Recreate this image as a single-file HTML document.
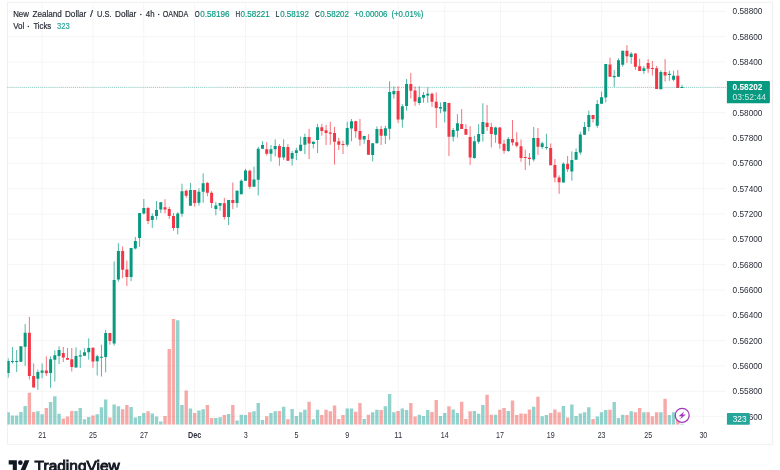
<!DOCTYPE html><html><head><meta charset="utf-8"><title>NZDUSD</title>
<style>html,body{margin:0;padding:0;background:#fff}body{width:780px;height:470px;overflow:hidden;position:relative}svg{position:absolute;left:0;top:0;display:block;will-change:transform}text{font-family:"Liberation Sans",sans-serif}</style></head><body>
<svg width="780" height="470" viewBox="0 0 780 470">
<rect width="780" height="470" fill="#fff"/>
<defs><clipPath id="cp"><rect x="7.4" y="2.3" width="718.2" height="422.4"/></clipPath></defs>
<path d="M7.4 11.30H725.6 M7.4 36.63H725.6 M7.4 61.97H725.6 M7.4 87.30H725.6 M7.4 112.63H725.6 M7.4 137.97H725.6 M7.4 163.30H725.6 M7.4 188.63H725.6 M7.4 213.97H725.6 M7.4 239.30H725.6 M7.4 264.63H725.6 M7.4 289.97H725.6 M7.4 315.30H725.6 M7.4 340.63H725.6 M7.4 365.97H725.6 M7.4 391.30H725.6 M7.4 416.63H725.6 M42.10 2.3V424.7 M93.00 2.3V424.7 M143.70 2.3V424.7 M194.60 2.3V424.7 M245.50 2.3V424.7 M296.70 2.3V424.7 M347.50 2.3V424.7 M398.30 2.3V424.7 M444.70 2.3V424.7 M500.50 2.3V424.7 M551.60 2.3V424.7 M601.60 2.3V424.7 M648.50 2.3V424.7 M703.60 2.3V424.7" stroke="#f5f5f6" stroke-width="1" fill="none"/>
<rect x="7.4" y="2.3" width="765.2" height="442.0" fill="none" stroke="#eeeff1" stroke-width="1"/>
<g clip-path="url(#cp)">
<path d="M6.50 424.7v-12.5h3.4v12.5zM10.74 424.7v-9.3h3.4v9.3zM14.98 424.7v-9.3h3.4v9.3zM19.21 424.7v-12.7h3.4v12.7zM23.45 424.7v-18.8h3.4v18.8zM36.17 424.7v-13.5h3.4v13.5zM40.40 424.7v-10.5h3.4v10.5zM48.88 424.7v-22.7h3.4v22.7zM53.12 424.7v-28.5h3.4v28.5zM57.36 424.7v-11.0h3.4v11.0zM74.31 424.7v-13.8h3.4v13.8zM78.55 424.7v-16.7h3.4v16.7zM82.78 424.7v-5.5h3.4v5.5zM87.02 424.7v-7.7h3.4v7.7zM95.50 424.7v-10.5h3.4v10.5zM99.74 424.7v-17.5h3.4v17.5zM103.97 424.7v-25.2h3.4v25.2zM112.45 424.7v-20.2h3.4v20.2zM116.69 424.7v-18.5h3.4v18.5zM129.40 424.7v-17.7h3.4v17.7zM133.64 424.7v-7.2h3.4v7.2zM137.88 424.7v-8.8h3.4v8.8zM142.12 424.7v-11.7h3.4v11.7zM150.59 424.7v-11.3h3.4v11.3zM154.83 424.7v-8.3h3.4v8.3zM159.07 424.7v-3.3h3.4v3.3zM176.02 424.7v-104.5h3.4v104.5zM180.26 424.7v-19.8h3.4v19.8zM188.73 424.7v-16.3h3.4v16.3zM197.21 424.7v-14.3h3.4v14.3zM201.45 424.7v-15.5h3.4v15.5zM214.16 424.7v-6.7h3.4v6.7zM218.40 424.7v-7.5h3.4v7.5zM226.88 424.7v-10.8h3.4v10.8zM235.35 424.7v-4.3h3.4v4.3zM239.59 424.7v-10.0h3.4v10.0zM243.83 424.7v-9.7h3.4v9.7zM252.30 424.7v-13.5h3.4v13.5zM256.54 424.7v-21.7h3.4v21.7zM260.78 424.7v-4.7h3.4v4.7zM269.26 424.7v-11.7h3.4v11.7zM273.49 424.7v-13.5h3.4v13.5zM281.97 424.7v-18.0h3.4v18.0zM290.45 424.7v-15.8h3.4v15.8zM294.68 424.7v-8.8h3.4v8.8zM298.92 424.7v-12.5h3.4v12.5zM303.16 424.7v-15.0h3.4v15.0zM311.64 424.7v-5.5h3.4v5.5zM315.87 424.7v-15.0h3.4v15.0zM345.54 424.7v-16.3h3.4v16.3zM349.78 424.7v-16.3h3.4v16.3zM362.49 424.7v-5.8h3.4v5.8zM370.97 424.7v-12.5h3.4v12.5zM375.21 424.7v-15.0h3.4v15.0zM383.68 424.7v-18.5h3.4v18.5zM387.92 424.7v-30.7h3.4v30.7zM392.16 424.7v-12.5h3.4v12.5zM400.63 424.7v-16.3h3.4v16.3zM404.87 424.7v-14.7h3.4v14.7zM417.59 424.7v-10.0h3.4v10.0zM421.82 424.7v-8.8h3.4v8.8zM426.06 424.7v-14.7h3.4v14.7zM438.78 424.7v-8.8h3.4v8.8zM443.01 424.7v-11.7h3.4v11.7zM451.49 424.7v-15.2h3.4v15.2zM455.73 424.7v-11.7h3.4v11.7zM472.68 424.7v-13.8h3.4v13.8zM476.92 424.7v-11.0h3.4v11.0zM481.16 424.7v-19.7h3.4v19.7zM493.87 424.7v-10.0h3.4v10.0zM506.58 424.7v-13.8h3.4v13.8zM532.01 424.7v-18.0h3.4v18.0zM540.49 424.7v-8.5h3.4v8.5zM544.73 424.7v-9.7h3.4v9.7zM561.68 424.7v-18.8h3.4v18.8zM570.15 424.7v-20.2h3.4v20.2zM574.39 424.7v-8.8h3.4v8.8zM578.63 424.7v-11.3h3.4v11.3zM582.87 424.7v-12.5h3.4v12.5zM587.11 424.7v-17.5h3.4v17.5zM595.58 424.7v-8.3h3.4v8.3zM599.82 424.7v-12.5h3.4v12.5zM604.06 424.7v-14.7h3.4v14.7zM612.53 424.7v-22.7h3.4v22.7zM616.77 424.7v-6.7h3.4v6.7zM621.01 424.7v-10.0h3.4v10.0zM629.49 424.7v-13.5h3.4v13.5zM642.20 424.7v-12.5h3.4v12.5zM659.15 424.7v-12.5h3.4v12.5zM667.63 424.7v-9.8h3.4v9.8zM671.87 424.7v-12.5h3.4v12.5zM680.34 424.7v-0.9h3.4v0.9z" fill="rgba(38,166,154,0.5)"/>
<path d="M27.69 424.7v-32.0h3.4v32.0zM31.93 424.7v-12.7h3.4v12.7zM44.64 424.7v-16.7h3.4v16.7zM61.59 424.7v-6.3h3.4v6.3zM65.83 424.7v-8.3h3.4v8.3zM70.07 424.7v-13.8h3.4v13.8zM91.26 424.7v-9.3h3.4v9.3zM108.21 424.7v-7.2h3.4v7.2zM120.93 424.7v-15.5h3.4v15.5zM125.16 424.7v-19.7h3.4v19.7zM146.35 424.7v-13.5h3.4v13.5zM163.31 424.7v-8.8h3.4v8.8zM167.54 424.7v-75.7h3.4v75.7zM171.78 424.7v-105.8h3.4v105.8zM184.50 424.7v-34.3h3.4v34.3zM192.97 424.7v-11.7h3.4v11.7zM205.69 424.7v-19.7h3.4v19.7zM209.92 424.7v-6.7h3.4v6.7zM222.64 424.7v-9.7h3.4v9.7zM231.11 424.7v-19.7h3.4v19.7zM248.07 424.7v-12.5h3.4v12.5zM265.02 424.7v-8.5h3.4v8.5zM277.73 424.7v-13.8h3.4v13.8zM286.21 424.7v-5.5h3.4v5.5zM307.40 424.7v-23.0h3.4v23.0zM320.11 424.7v-9.7h3.4v9.7zM324.35 424.7v-15.0h3.4v15.0zM328.59 424.7v-13.5h3.4v13.5zM332.83 424.7v-19.2h3.4v19.2zM337.06 424.7v-5.8h3.4v5.8zM341.30 424.7v-9.7h3.4v9.7zM354.02 424.7v-13.0h3.4v13.0zM358.25 424.7v-21.8h3.4v21.8zM366.73 424.7v-10.0h3.4v10.0zM379.44 424.7v-14.7h3.4v14.7zM396.40 424.7v-13.8h3.4v13.8zM409.11 424.7v-21.7h3.4v21.7zM413.35 424.7v-8.3h3.4v8.3zM430.30 424.7v-12.7h3.4v12.7zM434.54 424.7v-24.7h3.4v24.7zM447.25 424.7v-18.5h3.4v18.5zM459.97 424.7v-23.0h3.4v23.0zM464.20 424.7v-5.8h3.4v5.8zM468.44 424.7v-13.5h3.4v13.5zM485.39 424.7v-30.0h3.4v30.0zM489.63 424.7v-10.0h3.4v10.0zM498.11 424.7v-15.0h3.4v15.0zM502.35 424.7v-16.8h3.4v16.8zM510.82 424.7v-24.2h3.4v24.2zM515.06 424.7v-9.7h3.4v9.7zM519.30 424.7v-11.3h3.4v11.3zM523.54 424.7v-11.0h3.4v11.0zM527.77 424.7v-15.2h3.4v15.2zM536.25 424.7v-28.0h3.4v28.0zM548.96 424.7v-11.7h3.4v11.7zM553.20 424.7v-15.2h3.4v15.2zM557.44 424.7v-12.5h3.4v12.5zM565.92 424.7v-7.2h3.4v7.2zM591.34 424.7v-5.8h3.4v5.8zM608.30 424.7v-15.0h3.4v15.0zM625.25 424.7v-9.7h3.4v9.7zM633.72 424.7v-12.5h3.4v12.5zM637.96 424.7v-16.8h3.4v16.8zM646.44 424.7v-12.5h3.4v12.5zM650.68 424.7v-8.5h3.4v8.5zM654.91 424.7v-12.5h3.4v12.5zM663.39 424.7v-26.0h3.4v26.0zM676.10 424.7v-11.0h3.4v11.0z" fill="rgba(239,83,80,0.5)"/>
<path d="M8.20 358.3V377.7M12.44 347.0V363.6M16.68 350.0V372.0M20.91 346.2V361.7M25.15 324.1V365.8M37.87 369.5V389.9M42.10 363.4V378.2M50.58 356.4V387.8M54.82 350.3V381.5M59.06 346.4V364.1M76.01 347.3V367.6M80.25 350.2V368.0M84.48 348.3V355.7M88.72 338.3V359.6M97.20 354.7V375.5M101.44 344.7V376.5M105.67 330.0V372.4M114.15 261.5V345.7M118.39 243.3V281.7M131.10 247.9V281.0M135.34 237.0V249.4M139.58 213.0V246.9M143.82 199.0V214.4M152.29 213.3V227.9M156.53 201.0V219.7M160.77 202.0V213.0M177.72 212.3V234.3M181.96 183.7V216.8M190.43 182.9V205.8M198.91 188.4V205.6M203.15 173.4V202.9M215.86 202.0V215.4M220.10 202.9V210.7M228.58 200.0V225.1M237.05 190.3V207.7M241.29 179.3V194.2M245.53 168.8V180.8M254.00 166.8V186.7M258.24 146.8V195.4M262.48 141.2V148.8M270.96 145.0V161.5M275.19 139.3V156.3M283.67 139.3V160.1M292.15 150.9V165.6M296.38 147.8V160.1M300.62 136.7V151.5M304.86 133.7V154.1M313.34 141.2V148.4M317.57 123.8V153.0M347.24 121.7V146.9M351.48 119.0V141.2M364.19 135.8V143.8M372.67 143.0V161.4M376.91 126.5V143.3M385.38 126.0V144.0M389.62 81.3V139.7M393.86 86.5V98.6M402.33 104.2V127.7M406.57 79.1V110.6M419.29 86.3V104.9M423.52 92.1V102.7M427.76 87.3V102.7M440.48 102.4V113.2M444.71 101.9V122.4M453.19 127.9V141.5M457.43 114.2V137.6M474.38 135.8V158.7M478.62 124.1V143.8M482.86 103.3V141.5M495.57 126.6V142.8M508.28 137.0V151.8M533.71 127.0V161.6M542.19 141.8V149.0M546.43 133.8V149.7M563.38 162.3V182.6M571.85 151.4V180.7M576.09 148.5V159.7M580.33 131.8V154.6M584.57 121.9V134.8M588.81 110.6V131.4M597.28 100.0V127.8M601.52 91.6V103.7M605.76 64.1V102.4M614.23 70.1V86.9M618.47 58.3V76.8M622.71 50.8V66.7M631.19 52.1V63.8M643.90 66.0V73.8M660.85 70.3V89.2M669.33 70.7V80.8M673.57 70.7V81.3M682.04 84.9V87.9" stroke="#089981" stroke-width="1" stroke-opacity="0.7" fill="none"/>
<path d="M29.39 316.8V379.5M33.63 363.4V387.4M46.34 356.4V375.9M63.29 347.0V362.0M67.53 348.0V359.7M71.77 348.0V371.5M92.96 347.5V367.8M109.91 332.9V344.7M122.63 246.4V278.2M126.86 260.5V286.1M148.05 206.9V224.0M165.01 199.2V213.5M169.24 206.9V218.9M173.48 213.0V230.8M186.20 189.6V197.7M194.67 190.1V206.7M207.39 181.9V196.3M211.62 191.2V208.1M224.34 197.9V219.5M232.81 182.5V209.2M249.77 169.7V188.7M266.72 142.2V155.5M279.43 144.0V165.8M287.91 144.0V160.8M309.10 128.9V159.0M321.81 123.8V135.6M326.05 124.8V145.0M330.29 121.7V144.8M334.53 126.9V164.5M338.76 137.8V150.0M343.00 140.7V154.0M355.72 120.7V137.8M359.95 119.0V145.8M368.43 134.2V154.7M381.14 126.0V145.0M398.10 86.3V123.1M410.81 72.9V98.6M415.05 86.5V105.9M432.00 92.6V106.8M436.24 92.6V127.9M448.95 102.9V156.1M461.67 109.1V128.9M465.90 124.3V134.8M470.14 126.2V164.8M487.09 105.0V130.8M491.33 122.8V147.4M499.81 127.2V148.7M504.05 139.7V153.8M512.52 120.0V145.5M516.76 132.2V147.5M521.00 139.5V161.8M525.24 149.7V170.0M529.47 153.1V165.4M537.95 128.0V154.9M550.66 143.4V165.3M554.90 159.0V182.3M559.14 175.4V193.8M567.62 156.0V172.0M593.04 115.0V122.5M610.00 57.6V76.8M626.95 45.1V63.1M635.42 53.3V69.9M639.66 58.7V71.0M648.14 59.1V72.8M652.38 61.0V75.6M656.61 66.0V89.0M665.09 59.0V81.6M677.80 70.0V87.9" stroke="#f23645" stroke-width="1" stroke-opacity="0.7" fill="none"/>
<path d="M6.70 361.0h3.0V373.0h-3.0zM10.94 361.0h3.0V362.0h-3.0zM15.18 360.9h3.0V361.9h-3.0zM19.41 346.2h3.0V361.7h-3.0zM23.65 332.8h3.0V346.8h-3.0zM36.37 372.0h3.0V378.7h-3.0zM40.60 370.6h3.0V372.8h-3.0zM49.08 359.3h3.0V372.9h-3.0zM53.32 355.2h3.0V359.7h-3.0zM57.56 350.0h3.0V355.9h-3.0zM74.51 356.0h3.0V367.6h-3.0zM78.75 355.3h3.0V356.5h-3.0zM82.98 352.2h3.0V355.7h-3.0zM87.22 348.0h3.0V352.2h-3.0zM95.70 356.3h3.0V361.2h-3.0zM99.94 356.8h3.0V357.8h-3.0zM104.17 332.9h3.0V357.0h-3.0zM112.65 279.9h3.0V343.6h-3.0zM116.89 251.0h3.0V279.6h-3.0zM129.60 247.9h3.0V276.9h-3.0zM133.84 241.0h3.0V248.4h-3.0zM138.08 213.0h3.0V238.1h-3.0zM142.32 207.9h3.0V213.5h-3.0zM150.79 216.1h3.0V219.9h-3.0zM155.03 209.9h3.0V216.1h-3.0zM159.27 202.3h3.0V209.6h-3.0zM176.22 213.5h3.0V227.9h-3.0zM180.46 191.2h3.0V213.8h-3.0zM188.93 190.1h3.0V205.8h-3.0zM197.41 191.7h3.0V202.7h-3.0zM201.65 183.3h3.0V191.7h-3.0zM214.36 205.6h3.0V208.9h-3.0zM218.60 203.1h3.0V205.8h-3.0zM227.08 200.0h3.0V217.1h-3.0zM235.55 190.8h3.0V203.0h-3.0zM239.79 180.8h3.0V194.2h-3.0zM244.03 170.4h3.0V180.8h-3.0zM252.50 179.6h3.0V186.7h-3.0zM256.74 148.8h3.0V179.8h-3.0zM260.98 145.0h3.0V148.8h-3.0zM269.46 149.2h3.0V153.7h-3.0zM273.69 146.1h3.0V149.2h-3.0zM282.17 147.1h3.0V157.4h-3.0zM290.65 152.9h3.0V158.8h-3.0zM294.88 150.2h3.0V152.9h-3.0zM299.12 144.7h3.0V150.8h-3.0zM303.36 137.1h3.0V144.8h-3.0zM311.84 141.7h3.0V144.0h-3.0zM316.07 127.2h3.0V139.9h-3.0zM345.74 127.9h3.0V144.8h-3.0zM349.98 121.2h3.0V128.6h-3.0zM362.69 136.1h3.0V139.5h-3.0zM371.17 143.3h3.0V154.9h-3.0zM375.41 129.1h3.0V143.3h-3.0zM383.88 128.3h3.0V135.8h-3.0zM388.12 92.1h3.0V128.8h-3.0zM392.36 91.1h3.0V94.2h-3.0zM400.83 106.2h3.0V119.5h-3.0zM405.07 83.9h3.0V105.9h-3.0zM417.79 97.2h3.0V102.9h-3.0zM422.02 94.9h3.0V97.7h-3.0zM426.26 93.8h3.0V95.5h-3.0zM438.98 107.0h3.0V108.4h-3.0zM443.21 102.0h3.0V111.6h-3.0zM451.69 130.0h3.0V136.8h-3.0zM455.93 123.2h3.0V130.7h-3.0zM472.88 141.2h3.0V157.9h-3.0zM477.12 134.1h3.0V141.7h-3.0zM481.36 122.0h3.0V134.1h-3.0zM494.07 127.6h3.0V134.8h-3.0zM506.78 138.9h3.0V150.9h-3.0zM532.21 138.0h3.0V159.6h-3.0zM540.69 143.2h3.0V147.0h-3.0zM544.93 147.0h3.0V148.0h-3.0zM561.88 163.8h3.0V182.6h-3.0zM570.35 160.0h3.0V171.5h-3.0zM574.59 152.1h3.0V159.7h-3.0zM578.83 134.5h3.0V152.4h-3.0zM583.07 127.0h3.0V134.8h-3.0zM587.31 115.0h3.0V127.0h-3.0zM595.78 104.1h3.0V125.8h-3.0zM600.02 97.3h3.0V103.7h-3.0zM604.26 64.1h3.0V97.6h-3.0zM612.73 76.0h3.0V77.2h-3.0zM616.97 60.3h3.0V76.8h-3.0zM621.21 50.8h3.0V64.8h-3.0zM629.69 53.8h3.0V56.9h-3.0zM642.40 68.2h3.0V71.0h-3.0zM659.35 72.1h3.0V89.2h-3.0zM667.83 73.8h3.0V75.1h-3.0zM672.07 75.8h3.0V79.7h-3.0zM680.54 87.0h3.0V88.0h-3.0z" fill="#089981"/>
<path d="M27.89 332.8h3.0V375.9h-3.0zM32.13 375.9h3.0V387.4h-3.0zM44.84 370.6h3.0V373.3h-3.0zM61.79 353.0h3.0V357.5h-3.0zM66.03 357.9h3.0V359.7h-3.0zM70.27 359.2h3.0V367.0h-3.0zM91.46 347.8h3.0V361.5h-3.0zM108.41 332.9h3.0V340.9h-3.0zM121.13 251.0h3.0V269.7h-3.0zM125.36 269.5h3.0V276.9h-3.0zM146.55 207.9h3.0V220.9h-3.0zM163.51 207.2h3.0V209.4h-3.0zM167.74 208.9h3.0V216.1h-3.0zM171.98 216.1h3.0V227.9h-3.0zM184.70 190.8h3.0V195.7h-3.0zM193.17 190.1h3.0V202.9h-3.0zM205.89 182.9h3.0V192.7h-3.0zM210.12 192.7h3.0V202.9h-3.0zM222.84 203.3h3.0V217.1h-3.0zM231.31 200.0h3.0V203.0h-3.0zM248.27 170.7h3.0V186.7h-3.0zM265.22 149.2h3.0V153.7h-3.0zM277.93 146.1h3.0V157.4h-3.0zM286.41 147.1h3.0V160.8h-3.0zM307.60 137.1h3.0V143.6h-3.0zM320.31 127.2h3.0V131.0h-3.0zM324.55 130.3h3.0V133.0h-3.0zM328.79 132.5h3.0V133.7h-3.0zM333.03 133.1h3.0V141.8h-3.0zM337.26 141.2h3.0V144.8h-3.0zM341.50 143.9h3.0V144.9h-3.0zM354.22 121.2h3.0V131.3h-3.0zM358.45 131.0h3.0V139.5h-3.0zM366.93 140.0h3.0V154.7h-3.0zM379.64 129.1h3.0V135.8h-3.0zM396.60 91.1h3.0V119.5h-3.0zM409.31 83.9h3.0V90.8h-3.0zM413.55 90.4h3.0V101.6h-3.0zM430.50 93.8h3.0V101.8h-3.0zM434.74 101.8h3.0V108.1h-3.0zM447.45 103.0h3.0V136.8h-3.0zM460.17 124.0h3.0V128.9h-3.0zM464.40 128.9h3.0V134.8h-3.0zM468.64 137.1h3.0V157.6h-3.0zM485.59 122.8h3.0V126.9h-3.0zM489.83 126.9h3.0V134.1h-3.0zM498.31 127.6h3.0V143.8h-3.0zM502.55 143.8h3.0V150.8h-3.0zM511.02 139.0h3.0V142.6h-3.0zM515.26 142.3h3.0V145.8h-3.0zM519.50 146.3h3.0V157.9h-3.0zM523.74 157.1h3.0V158.1h-3.0zM527.97 157.7h3.0V159.0h-3.0zM536.45 138.0h3.0V146.7h-3.0zM549.16 148.0h3.0V165.3h-3.0zM553.40 165.1h3.0V177.6h-3.0zM557.64 177.4h3.0V182.3h-3.0zM566.12 163.8h3.0V169.2h-3.0zM591.54 115.0h3.0V119.1h-3.0zM608.50 64.4h3.0V76.8h-3.0zM625.45 50.8h3.0V56.2h-3.0zM633.92 53.5h3.0V66.7h-3.0zM638.16 66.2h3.0V71.0h-3.0zM646.64 63.1h3.0V68.7h-3.0zM650.88 67.9h3.0V69.0h-3.0zM655.11 68.3h3.0V89.0h-3.0zM663.59 72.1h3.0V75.6h-3.0zM676.30 75.8h3.0V87.9h-3.0z" fill="#f23645"/>
</g>
<path d="M7.4 87.4H727" stroke="#089981" stroke-width="0.65" stroke-dasharray="1 1.05" stroke-opacity="0.7" fill="none"/>
<text x="732.6" y="14.45" font-size="8.3" fill="#2a2e39" textLength="29.8" lengthAdjust="spacingAndGlyphs">0.58800</text>
<text x="732.6" y="39.78" font-size="8.3" fill="#2a2e39" textLength="29.8" lengthAdjust="spacingAndGlyphs">0.58600</text>
<text x="732.6" y="65.12" font-size="8.3" fill="#2a2e39" textLength="29.8" lengthAdjust="spacingAndGlyphs">0.58400</text>
<text x="732.6" y="90.45" font-size="8.3" fill="#2a2e39" textLength="29.8" lengthAdjust="spacingAndGlyphs">0.58200</text>
<text x="732.6" y="115.78" font-size="8.3" fill="#2a2e39" textLength="29.8" lengthAdjust="spacingAndGlyphs">0.58000</text>
<text x="732.6" y="141.12" font-size="8.3" fill="#2a2e39" textLength="29.8" lengthAdjust="spacingAndGlyphs">0.57800</text>
<text x="732.6" y="166.45" font-size="8.3" fill="#2a2e39" textLength="29.8" lengthAdjust="spacingAndGlyphs">0.57600</text>
<text x="732.6" y="191.78" font-size="8.3" fill="#2a2e39" textLength="29.8" lengthAdjust="spacingAndGlyphs">0.57400</text>
<text x="732.6" y="217.12" font-size="8.3" fill="#2a2e39" textLength="29.8" lengthAdjust="spacingAndGlyphs">0.57200</text>
<text x="732.6" y="242.45" font-size="8.3" fill="#2a2e39" textLength="29.8" lengthAdjust="spacingAndGlyphs">0.57000</text>
<text x="732.6" y="267.78" font-size="8.3" fill="#2a2e39" textLength="29.8" lengthAdjust="spacingAndGlyphs">0.56800</text>
<text x="732.6" y="293.12" font-size="8.3" fill="#2a2e39" textLength="29.8" lengthAdjust="spacingAndGlyphs">0.56600</text>
<text x="732.6" y="318.45" font-size="8.3" fill="#2a2e39" textLength="29.8" lengthAdjust="spacingAndGlyphs">0.56400</text>
<text x="732.6" y="343.78" font-size="8.3" fill="#2a2e39" textLength="29.8" lengthAdjust="spacingAndGlyphs">0.56200</text>
<text x="732.6" y="369.12" font-size="8.3" fill="#2a2e39" textLength="29.8" lengthAdjust="spacingAndGlyphs">0.56000</text>
<text x="732.6" y="394.45" font-size="8.3" fill="#2a2e39" textLength="29.8" lengthAdjust="spacingAndGlyphs">0.55800</text>
<text x="732.6" y="419.78" font-size="8.3" fill="#2a2e39" textLength="29.8" lengthAdjust="spacingAndGlyphs">0.55600</text>
<rect x="726.9" y="412.9" width="22.9" height="11.9" rx="0.8" fill="#26a69a"/>
<text x="739.6" y="421.9" font-size="8.3" fill="#fff" text-anchor="middle">323</text>
<path d="M726.9 81.1H768.6a1.3 1.3 0 0 1 1.3 1.3V102a1.3 1.3 0 0 1 -1.3 1.3H726.9z" fill="#089981"/>
<text x="732.6" y="90.2" font-size="8.3" fill="#fff" font-weight="bold" textLength="29.8" lengthAdjust="spacingAndGlyphs">0.58202</text>
<text x="732.6" y="100.3" font-size="8.3" fill="#fff" fill-opacity="0.8" textLength="33.3" lengthAdjust="spacingAndGlyphs">03:52:44</text>
<text x="38.25" y="437.7" font-size="8.3" fill="#2a2e39" textLength="7.9" lengthAdjust="spacingAndGlyphs">21</text>
<text x="89.11" y="437.7" font-size="8.3" fill="#2a2e39" textLength="7.9" lengthAdjust="spacingAndGlyphs">25</text>
<text x="139.97" y="437.7" font-size="8.3" fill="#2a2e39" textLength="7.9" lengthAdjust="spacingAndGlyphs">27</text>
<text x="188.12" y="437.7" font-size="8.3" fill="#2a2e39" textLength="13.3" lengthAdjust="spacingAndGlyphs" font-weight="bold">Dec</text>
<text x="243.63" y="437.7" font-size="8.3" fill="#2a2e39" textLength="4.0" lengthAdjust="spacingAndGlyphs">3</text>
<text x="294.48" y="437.7" font-size="8.3" fill="#2a2e39" textLength="4.0" lengthAdjust="spacingAndGlyphs">5</text>
<text x="345.34" y="437.7" font-size="8.3" fill="#2a2e39" textLength="4.0" lengthAdjust="spacingAndGlyphs">9</text>
<text x="394.25" y="437.7" font-size="8.3" fill="#2a2e39" textLength="7.9" lengthAdjust="spacingAndGlyphs">11</text>
<text x="440.86" y="437.7" font-size="8.3" fill="#2a2e39" textLength="7.9" lengthAdjust="spacingAndGlyphs">14</text>
<text x="495.96" y="437.7" font-size="8.3" fill="#2a2e39" textLength="7.9" lengthAdjust="spacingAndGlyphs">17</text>
<text x="546.81" y="437.7" font-size="8.3" fill="#2a2e39" textLength="7.9" lengthAdjust="spacingAndGlyphs">19</text>
<text x="597.67" y="437.7" font-size="8.3" fill="#2a2e39" textLength="7.9" lengthAdjust="spacingAndGlyphs">23</text>
<text x="644.29" y="437.7" font-size="8.3" fill="#2a2e39" textLength="7.9" lengthAdjust="spacingAndGlyphs">25</text>
<text x="699.38" y="437.7" font-size="8.3" fill="#2a2e39" textLength="7.9" lengthAdjust="spacingAndGlyphs">30</text>
<text x="13.2" y="16.8" font-size="8.4" fill="#2a2e39" stroke="#2a2e39" stroke-width="0.2" textLength="15.7" lengthAdjust="spacingAndGlyphs">New</text>
<text x="32.5" y="16.8" font-size="8.4" fill="#2a2e39" stroke="#2a2e39" stroke-width="0.2" textLength="29.2" lengthAdjust="spacingAndGlyphs">Zealand</text>
<text x="65.0" y="16.8" font-size="8.4" fill="#2a2e39" stroke="#2a2e39" stroke-width="0.2" textLength="21.2" lengthAdjust="spacingAndGlyphs">Dollar</text>
<text x="90.0" y="16.8" font-size="8.4" fill="#2a2e39" stroke="#2a2e39" stroke-width="0.2" textLength="3.0" lengthAdjust="spacingAndGlyphs">/</text>
<text x="97.0" y="16.8" font-size="8.4" fill="#2a2e39" stroke="#2a2e39" stroke-width="0.2" textLength="14.5" lengthAdjust="spacingAndGlyphs">U.S.</text>
<text x="115.0" y="16.8" font-size="8.4" fill="#2a2e39" stroke="#2a2e39" stroke-width="0.2" textLength="21.3" lengthAdjust="spacingAndGlyphs">Dollar</text>
<text x="145.8" y="16.8" font-size="8.4" fill="#2a2e39" stroke="#2a2e39" stroke-width="0.2" textLength="8.7" lengthAdjust="spacingAndGlyphs">4h</text>
<text x="162.8" y="16.8" font-size="8.4" fill="#2a2e39" stroke="#2a2e39" stroke-width="0.2" textLength="25.5" lengthAdjust="spacingAndGlyphs">OANDA</text>
<circle cx="140.8" cy="14.4" r="0.75" fill="#2a2e39"/>
<circle cx="158.7" cy="14.4" r="0.75" fill="#2a2e39"/>
<text x="194.7" y="16.8" font-size="8.4" fill="#2a2e39" stroke="#2a2e39" stroke-width="0.2" textLength="4.9" lengthAdjust="spacingAndGlyphs">O</text>
<text x="200.2" y="16.8" font-size="8.4" fill="#089981" stroke="#089981" stroke-width="0.15" textLength="29.2" lengthAdjust="spacingAndGlyphs">0.58196</text>
<text x="235.4" y="16.8" font-size="8.4" fill="#2a2e39" stroke="#2a2e39" stroke-width="0.2" textLength="4.6" lengthAdjust="spacingAndGlyphs">H</text>
<text x="240.6" y="16.8" font-size="8.4" fill="#089981" stroke="#089981" stroke-width="0.15" textLength="29.0" lengthAdjust="spacingAndGlyphs">0.58221</text>
<text x="275.6" y="16.8" font-size="8.4" fill="#2a2e39" stroke="#2a2e39" stroke-width="0.2" textLength="3.8" lengthAdjust="spacingAndGlyphs">L</text>
<text x="280.2" y="16.8" font-size="8.4" fill="#089981" stroke="#089981" stroke-width="0.15" textLength="28.8" lengthAdjust="spacingAndGlyphs">0.58192</text>
<text x="314.9" y="16.8" font-size="8.4" fill="#2a2e39" stroke="#2a2e39" stroke-width="0.2" textLength="4.7" lengthAdjust="spacingAndGlyphs">C</text>
<text x="320.2" y="16.8" font-size="8.4" fill="#089981" stroke="#089981" stroke-width="0.15" textLength="28.8" lengthAdjust="spacingAndGlyphs">0.58202</text>
<text x="354.3" y="16.8" font-size="8.4" fill="#089981" stroke="#089981" stroke-width="0.15" textLength="33.2" lengthAdjust="spacingAndGlyphs">+0.00006</text>
<text x="391.4" y="16.8" font-size="8.4" fill="#089981" stroke="#089981" stroke-width="0.15" textLength="31.9" lengthAdjust="spacingAndGlyphs">(+0.01%)</text>
<text x="13.2" y="28.8" font-size="8.4" fill="#2a2e39" stroke="#2a2e39" stroke-width="0.2" textLength="11.1" lengthAdjust="spacingAndGlyphs">Vol</text>
<text x="33.4" y="28.8" font-size="8.4" fill="#2a2e39" stroke="#2a2e39" stroke-width="0.2" textLength="17.8" lengthAdjust="spacingAndGlyphs">Ticks</text>
<circle cx="28.4" cy="26.4" r="0.75" fill="#2a2e39"/>
<text x="57.0" y="28.8" font-size="8.4" fill="#26a69a" stroke="#26a69a" stroke-width="0.15" textLength="12.7" lengthAdjust="spacingAndGlyphs">323</text>
<circle cx="682.2" cy="415.3" r="7.0" fill="#fff" stroke="#a536c0" stroke-width="1.3"/>
<path d="M684.3 411.3L678.6 416.2H681.7L679.9 419.6L685.8 414.6H682.6z" fill="#a536c0"/>
<g transform="translate(8.7 458.0) scale(0.5833)" fill="#131722"><path d="M14 22H7V11H0V4h14v18zM28 22h-8l7.5-18h8L28 22z"/><circle cx="20" cy="8" r="4"/></g>
<text x="34.6" y="471.3" font-size="15.2" fill="#131722" stroke="#131722" stroke-width="0.9" textLength="85.2" lengthAdjust="spacingAndGlyphs">TradingView</text>
</svg></body></html>
